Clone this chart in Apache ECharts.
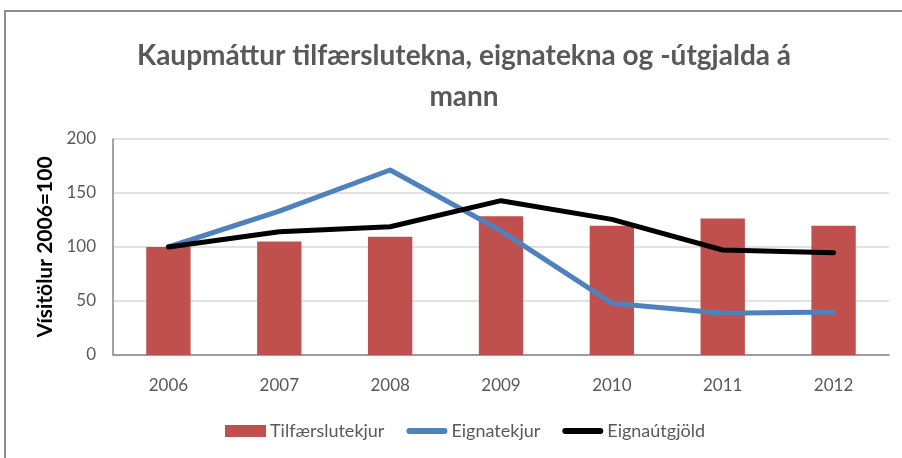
<!DOCTYPE html>
<html>
<head>
<meta charset="utf-8">
<script src="https://cdn.jsdelivr.net/npm/echarts@6/dist/echarts.min.js"></script>
<style>
  html, body { margin: 0; padding: 0; background: #fff; }
  #chart { width: 902px; height: 458px; }
</style>
</head>
<body>
<div id="chart"></div>
<script>
// Ár (flokkar á x-ás)
const years = ['2006', '2007', '2008', '2009', '2010', '2011', '2012'];

// Vísitölur, 2006 = 100
const tilfaerslutekjur = [100, 105.2, 109.5, 128.4, 119.7, 126.5, 119.7];
const eignatekjur      = [100, 133.3, 171.3, 115.0, 48.0, 38.6, 39.8];
const eignautgjold     = [100, 114.2, 118.8, 142.9, 125.6, 97.2, 94.7];

const seriesNames = ['Tilfærslutekjur', 'Eignatekjur', 'Eignaútgjöld'];

const FONT = 'Lato, "Open Sans", sans-serif';
const GRAY = '#595959';
// Lína með rúnnuðum endum fyrir skýringar (hlutföll 7:1)
const LINE_ICON = 'path://M3,0 H39 A3,3 0 0 1 39,6 H3 A3,3 0 0 1 3,0 Z';

const chart = echarts.init(document.getElementById('chart'), null, { renderer: 'canvas' });

chart.setOption({
  animation: false,
  backgroundColor: '#fff',
  graphic: [
    {
      type: 'rect',
      shape: { x: 5, y: 11, width: 1000, height: 1000 },
      style: { fill: 'none', stroke: '#8c8c8c', lineWidth: 2 },
      silent: true
    }
  ],
  title: {
    text: 'Kaupmáttur tilfærslutekna, eignatekna og -útgjalda á\nmann',
    left: 459,
    top: 30,
    textAlign: 'center',
    textStyle: {
      fontFamily: FONT,
      fontWeight: 'bold',
      fontSize: 28,
      color: GRAY,
      lineHeight: 41
    }
  },
  grid: { left: 113, top: 139, right: 13, bottom: 103 },
  legend: {
    bottom: 13,
    left: 220,
    itemGap: 22,
    itemWidth: 41,
    itemHeight: 12,
    symbolKeepAspect: true,
    textStyle: { fontFamily: FONT, fontSize: 18, color: GRAY, padding: [0, 0, 0, -1] },
    data: [
      { name: seriesNames[0], icon: 'rect' },
      { name: seriesNames[1], icon: LINE_ICON },
      { name: seriesNames[2], icon: LINE_ICON }
    ]
  },
  xAxis: {
    type: 'category',
    data: years,
    axisLine: { lineStyle: { color: '#868686', width: 1.5 } },
    axisTick: { show: false },
    axisLabel: { fontFamily: FONT, fontSize: 17, color: GRAY, margin: 22 }
  },
  yAxis: {
    type: 'value',
    min: 0,
    max: 200,
    interval: 50,
    name: 'Vísitölur 2006=100',
    nameLocation: 'middle',
    nameGap: 57,
    nameRotate: 90,
    nameTextStyle: { fontFamily: FONT, fontSize: 21, fontWeight: 'bold', color: '#000' },
    axisLine: { show: true, lineStyle: { color: '#868686', width: 1.5 } },
    axisTick: { show: false },
    axisLabel: { fontFamily: FONT, fontSize: 17, color: GRAY, margin: 17 },
    splitLine: { lineStyle: { color: '#d9d9d9', width: 1.5 } }
  },
  series: [
    {
      name: seriesNames[0],
      type: 'bar',
      data: tilfaerslutekjur,
      barWidth: '40%',
      itemStyle: { color: '#C0504D' }
    },
    {
      name: seriesNames[1],
      type: 'line',
      data: eignatekjur,
      symbol: 'none',
      itemStyle: { color: '#4F81BD' },
      lineStyle: { color: '#4F81BD', width: 5, cap: 'round', join: 'round' }
    },
    {
      name: seriesNames[2],
      type: 'line',
      data: eignautgjold,
      symbol: 'none',
      itemStyle: { color: '#000' },
      lineStyle: { color: '#000', width: 5, cap: 'round', join: 'round' }
    }
  ]
});
</script>
</body>
</html>
